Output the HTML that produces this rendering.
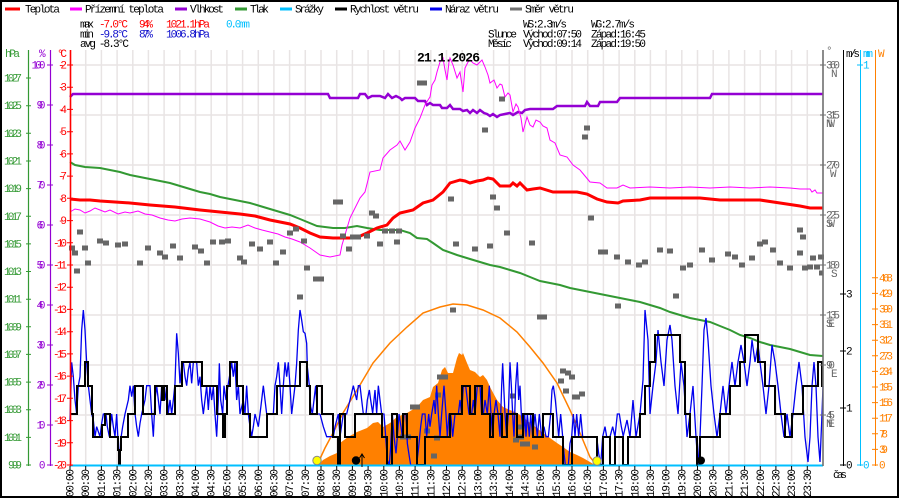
<!DOCTYPE html>
<html><head><meta charset="utf-8"><style>
html,body{margin:0;padding:0;background:#fff;}
svg{display:block;}
text{font-family:"Liberation Mono","DejaVu Sans Mono",monospace;font-size:11px;}
</style></head><body>
<svg width="900" height="500" viewBox="0 0 900 500" xmlns="http://www.w3.org/2000/svg">
<rect x="0" y="0" width="900" height="500" fill="#fff"/>
<rect x="1" y="1" width="897" height="496" fill="none" stroke="#000" stroke-width="2"/>

<!-- grid -->
<path stroke="#e8e4e4" stroke-width="1.5" fill="none" d="M85.7,50V465M101.4,50V465M117.1,50V465M132.8,50V465M148.4,50V465M164.1,50V465M179.8,50V465M195.5,50V465M211.2,50V465M226.9,50V465M242.6,50V465M258.3,50V465M273.9,50V465M289.6,50V465M305.3,50V465M321,50V465M336.7,50V465M352.4,50V465M368.1,50V465M383.8,50V465M399.4,50V465M415.1,50V465M430.8,50V465M446.5,50V465M462.2,50V465M477.9,50V465M493.6,50V465M509.3,50V465M524.9,50V465M540.6,50V465M556.3,50V465M572,50V465M587.7,50V465M603.4,50V465M619.1,50V465M634.8,50V465M650.4,50V465M666.1,50V465M681.8,50V465M697.5,50V465M713.2,50V465M728.9,50V465M744.6,50V465M760.3,50V465M775.9,50V465M791.6,50V465M807.3,50V465"/>
<path stroke="#e8e4e4" stroke-width="1.5" fill="none" d="M70,65H823M70,115H823M70,165H823M70,215H823M70,265H823M70,315H823M70,365H823M70,415H823"/>

<!-- solar radiation fill -->
<path fill="#ff8000" stroke="none" d="M318,465 L323,460 330,456 337,453 340,443 348,437 357,432 367,428 373,423 378,422 383,427 390,423 397,417 407,413 417,407 423,400 430,397 433,387 438,383 442,370 445,367 448,373 453,373 457,358 459,353 462,355 463,353 467,363 470,370 475,372 480,377 483,375 487,380 490,387 497,400 503,407 510,410 517,413 523,417 530,423 537,428 543,433 550,438 557,443 563,447 570,452 577,455 583,458 590,462 595,465 Z"/>
<!-- theoretical radiation -->
<polyline fill="none" stroke="#ff8000" stroke-width="1.5" points="318,463 325,448 333,433 343,413 357,390 373,363 390,343 407,327 423,313 440,307 453,304 467,305 483,310 500,318 517,332 530,347 543,363 557,383 570,410 580,433 590,457 595,463"/>

<!-- pressure -->
<polyline fill="none" stroke="#339933" stroke-width="2" points="70,162 75,165 85,167 100,168 110,170 120,172 130,175 140,177 150,179 160,181 170,183 180,186 190,189 200,192 210,194 220,197 230,199 240,201 250,203 260,206 270,209 280,212 290,215 300,219 317,226 333,228 345,228 357,226 367,228 380,230 400,230 410,233 417,238 427,239 433,243 443,250 457,255 470,259 480,262 490,265 500,267 510,270 520,273 530,277 540,281 550,283 560,285 570,288 580,290 590,292 600,294 610,296 620,298 630,300 640,302 650,305 660,308 670,312 680,315 690,318 700,320 710,322 720,326 730,330 740,335 750,338 760,342 770,345 780,347 790,349 800,352 810,355 823,356"/>

<!-- humidity -->
<polyline fill="none" stroke="#9400d3" stroke-width="2.5" points="70,97 73,94 328,94 330,98 358,98 360,94 365,94 368,98 372,96 380,96 385,98 388,94 392,98 396,96 400,98 402,100 405,98 415,98 418,101 425,101 427,105 430,103 433,105 440,105 442,108 447,108 450,105 453,109 460,109 463,111 467,110 470,113 473,110 477,113 480,110 484,113 487,114 490,116 493,114 497,117 500,115 505,114 510,113 513,115 518,112 522,113 525,110 530,109 553,109 557,106 585,106 587,102 590,106 598,106 600,102 617,102 620,98 710,98 712,94 823,94"/>

<!-- apparent temperature -->
<polyline fill="none" stroke="#ff00ff" stroke-width="1" points="70,212 75,209 80,210 85,213 90,211 95,208 100,210 105,212 110,210 118,214 125,212 130,213 138,211 145,214 152,215 160,218 168,220 175,221 182,219 190,218 200,219 210,222 218,226 225,228 232,227 240,228 248,225 255,228 262,230 270,232 278,234 285,237 292,239 300,242 310,248 320,255 330,257 340,255 342,245 350,218 360,198 365,192 370,172 380,170 383,158 390,150 397,145 400,141 405,150 410,142 415,128 420,118 425,105 428,100 430,97 432,85 435,80 437,72 440,62 443,58 445,70 447,80 449,62 450,58 453,65 457,78 460,72 463,92 465,68 468,62 470,60 473,63 477,65 480,62 482,60 485,67 488,75 490,83 494,80 497,88 500,84 502,85 505,97 508,93 510,95 513,112 516,104 518,107 521,118 523,132 527,117 530,125 533,127 536,120 540,122 543,126 547,128 550,140 555,143 560,155 567,157 573,165 580,170 585,176 590,182 600,183 607,188 617,188 623,185 630,188 650,187 670,188 690,187 710,188 730,187 750,188 770,187 790,188 800,189 810,189 812,192 815,190 817,193 823,193"/>

<!-- temperature -->
<polyline fill="none" stroke="#ff0000" stroke-width="3" points="70,199 80,200 90,200 100,201 115,202 130,203 150,205 175,207 200,210 220,212 240,214 255,216 270,220 290,224 300,228 310,233 320,237 333,238 350,238 358,237 367,233 377,228 387,225 393,218 400,213 413,210 423,203 433,200 443,192 450,183 460,180 465,181 470,183 477,181 483,180 488,178 493,179 500,186 510,186 513,183 517,186 520,183 527,190 533,189 540,188 553,192 577,192 587,194 597,199 607,202 618,203 623,201 640,200 650,198 700,198 720,200 760,200 780,203 800,206 810,208 823,208"/>

<!-- wind direction -->
<g fill="#666">
<rect x="77" y="229.5" width="6" height="5"/><rect x="69" y="245.5" width="6" height="5"/><rect x="72" y="250.5" width="6" height="5"/><rect x="82" y="245.5" width="6" height="5"/><rect x="74" y="268.5" width="6" height="5"/><rect x="85" y="260.5" width="6" height="5"/><rect x="97" y="238.5" width="6" height="5"/><rect x="103" y="240.5" width="6" height="5"/><rect x="115" y="242.5" width="6" height="5"/><rect x="122" y="241.5" width="6" height="5"/><rect x="137" y="260.5" width="6" height="5"/><rect x="145" y="245.5" width="6" height="5"/><rect x="157" y="250.5" width="6" height="5"/><rect x="162" y="254.5" width="6" height="5"/><rect x="170" y="243.5" width="6" height="5"/><rect x="177" y="255.5" width="6" height="5"/><rect x="192" y="244.5" width="6" height="5"/><rect x="198" y="248.5" width="6" height="5"/><rect x="204" y="260.5" width="6" height="5"/><rect x="210" y="239.5" width="6" height="5"/><rect x="219" y="239.5" width="6" height="5"/><rect x="225" y="238.5" width="6" height="5"/><rect x="237" y="255.5" width="6" height="5"/><rect x="241" y="259.5" width="6" height="5"/><rect x="249" y="241.5" width="6" height="5"/><rect x="257" y="246.5" width="6" height="5"/><rect x="267" y="239.5" width="6" height="5"/><rect x="273" y="260.5" width="6" height="5"/><rect x="280" y="249.5" width="6" height="5"/><rect x="287" y="230.5" width="6" height="5"/><rect x="293" y="226.5" width="6" height="5"/><rect x="297" y="294.5" width="6" height="5"/><rect x="304" y="265.5" width="6" height="5"/><rect x="313" y="276.5" width="6" height="5"/><rect x="318" y="276.5" width="6" height="5"/>
<rect x="301" y="238.5" width="6" height="5"/><rect x="333" y="199.5" width="10" height="5"/><rect x="340" y="233.5" width="6" height="5"/><rect x="350" y="234.5" width="6" height="5"/><rect x="355" y="234.5" width="6" height="5"/><rect x="364" y="233.5" width="6" height="5"/><rect x="346" y="246.5" width="6" height="5"/><rect x="369" y="210.5" width="6" height="5"/><rect x="373" y="213.5" width="6" height="5"/><rect x="377" y="241.5" width="6" height="5"/><rect x="382" y="228.5" width="6" height="5"/><rect x="389" y="228.5" width="6" height="5"/><rect x="396" y="228.5" width="6" height="5"/><rect x="394" y="239.5" width="6" height="5"/><rect x="417" y="80.5" width="10" height="5"/><rect x="448" y="196.5" width="6" height="5"/><rect x="453" y="241.5" width="6" height="5"/><rect x="472" y="246.5" width="6" height="5"/><rect x="482" y="127.5" width="6" height="5"/><rect x="487" y="243.5" width="6" height="5"/><rect x="490" y="194.5" width="6" height="5"/><rect x="494" y="205.5" width="6" height="5"/><rect x="499" y="96.5" width="6" height="5"/><rect x="504" y="230.5" width="6" height="5"/><rect x="529" y="240.5" width="6" height="5"/><rect x="582" y="134.5" width="6" height="5"/><rect x="584" y="125.5" width="6" height="5"/><rect x="588" y="215.5" width="6" height="5"/><rect x="598" y="249.5" width="10" height="5"/>
<rect x="450" y="307.5" width="6" height="5"/><rect x="537" y="314.5" width="10" height="5"/><rect x="615" y="303.5" width="6" height="5"/><rect x="560" y="368.5" width="6" height="5"/><rect x="565" y="370.5" width="6" height="5"/><rect x="569" y="374.5" width="6" height="5"/><rect x="558" y="378.5" width="6" height="5"/><rect x="563" y="388.5" width="6" height="5"/><rect x="572" y="394.5" width="8" height="5"/><rect x="579" y="391.5" width="6" height="5"/><rect x="442" y="374.5" width="6" height="5"/><rect x="437" y="374.5" width="6" height="5"/><rect x="435" y="392.5" width="6" height="5"/><rect x="410" y="404.5" width="10" height="5"/><rect x="510" y="393.5" width="6" height="5"/><rect x="516" y="424.5" width="6" height="5"/><rect x="518" y="434.5" width="6" height="5"/><rect x="520" y="441.5" width="6" height="5"/><rect x="524" y="441.5" width="6" height="5"/><rect x="532" y="444.5" width="6" height="5"/><rect x="400" y="434.5" width="6" height="5"/><rect x="405" y="434.5" width="6" height="5"/><rect x="434" y="435.5" width="6" height="5"/><rect x="424" y="428.5" width="6" height="5"/><rect x="431" y="453.5" width="6" height="5"/><rect x="513" y="437.5" width="6" height="5"/>
<rect x="614" y="254.5" width="6" height="5"/><rect x="625" y="259.5" width="6" height="5"/><rect x="636" y="262.5" width="6" height="5"/><rect x="642" y="259.5" width="6" height="5"/><rect x="657" y="247.5" width="6" height="5"/><rect x="667" y="248.5" width="6" height="5"/><rect x="673" y="293.5" width="6" height="5"/><rect x="680" y="265.5" width="6" height="5"/><rect x="687" y="262.5" width="6" height="5"/><rect x="699" y="247.5" width="6" height="5"/><rect x="709" y="257.5" width="6" height="5"/><rect x="725" y="251.5" width="6" height="5"/><rect x="732" y="254.5" width="6" height="5"/><rect x="739" y="262.5" width="6" height="5"/><rect x="749" y="255.5" width="6" height="5"/><rect x="757" y="241.5" width="6" height="5"/><rect x="762" y="239.5" width="6" height="5"/><rect x="770" y="247.5" width="6" height="5"/><rect x="777" y="260.5" width="6" height="5"/><rect x="787" y="265.5" width="6" height="5"/><rect x="797" y="227.5" width="6" height="5"/><rect x="800" y="234.5" width="6" height="5"/><rect x="802" y="265.5" width="6" height="5"/><rect x="807" y="264.5" width="6" height="5"/><rect x="810" y="255.5" width="6" height="5"/><rect x="814" y="264.5" width="6" height="5"/><rect x="818" y="254.5" width="6" height="5"/><rect x="819" y="270.5" width="4" height="5"/><rect x="797" y="250.5" width="6" height="5"/>
</g>

<!-- wind gusts -->
<g transform="translate(70,300) scale(0.333333)">
<polyline fill="none" stroke="#0000ee" stroke-width="1.3" vector-effect="non-scaling-stroke" points="0,360 5,187 10,230 15,300 20,342 25,257 30,230 35,90 40,30 45,90 50,190 55,257 60,300 65,342 70,360 75,410 80,380 90,410 95,370 100,342 108,342 112,380 118,410 125,342 130,380 135,410 140,342 145,440 148,490 152,420 158,380 165,342 175,300 180,257 185,290 190,257 195,340 200,380 205,410 210,370 215,342 225,300 230,257 240,257 245,342 250,410 255,300 260,257 265,300 270,342 275,257 285,300 290,257 295,340 300,300 305,342 310,300 315,250 320,100 325,160 330,250 335,200 340,187 345,230 350,257 355,210 360,187 365,250 370,187 380,187 385,257 390,230 395,300 400,342 405,300 410,257 415,330 420,257 425,300 430,260 435,342 440,410 445,300 448,190 452,300 458,342 462,257 468,300 474,257 480,220 485,187 490,230 495,187 500,300 505,257 510,342 520,300 525,342 530,257 535,342 540,380 545,410 550,380 555,342 565,380 570,342 575,300 580,257 585,300 590,342 600,342 610,342 615,257 620,230 625,187 630,257 635,342 640,257 645,187 650,230 655,187 660,257 665,342 670,300 675,257 680,190 685,90 690,30 695,60 700,95 705,100 710,130 712,200 718,257 722,320 727,342 732,300 737,257 742,342 750,342"/>
</g>
<g transform="translate(290,300) scale(0.333333)">
<polyline fill="none" stroke="#0000ee" stroke-width="1.3" vector-effect="non-scaling-stroke" points="90,342 100,380 110,410 130,410 135,380 145,342 150,410 160,342 170,342 180,300 190,257 200,300 205,257 210,257 215,300 220,342 228,342 232,300 238,270 242,300 248,340 255,270 260,340 265,257 270,300 275,342 282,342 287,410 292,480 298,495 302,440 307,342 312,410 318,460 322,410 327,342 333,380 337,410 342,342 348,342 352,430 358,470 362,495 380,495 386,440 392,380 397,342 405,342 410,410 416,342 420,380 425,342 432,300 436,342 440,257 445,342 450,410 455,342 462,257 468,342 472,410 477,342 482,342 488,410 495,342 505,342 510,300 515,342 520,257 527,257 532,300 537,342 545,342 550,300 555,342 562,257 570,257 575,342 580,342 585,300 592,342 598,257 603,342 608,410 612,342 618,300 624,342 630,410 635,257 638,190 641,257 645,342 650,410 655,342 660,187 664,257 668,342 672,410 677,257 682,187 686,300 690,257 694,342 700,410 704,342 708,410 712,342 718,410 722,342 728,410 735,342 742,410 748,342 755,410 762,380 768,410 775,410 782,342 786,270 790,257 796,300 800,342 806,410 812,342 818,410 822,460 826,495 835,495 840,430 845,410 850,342 855,410 860,342 866,410 872,342 878,410 920,410 926,460 932,495 938,410 945,380 950,410 960,410 968,380 975,410 982,342 988,342 994,380 1000,410"/>
</g>
<polyline fill="none" stroke="#0000ee" stroke-width="1.3" points="623,437 627,420 630,437 633,400 636,437 640,414 643,380 645,310 648,340 650,414 653,386 656,362 658,330 661,362 664,386 667,340 670,325 672,340 675,386 678,414 681,362 684,386 687,437 690,414 693,386 696,437 698,465 700,437 702,386 704,330 706,318 708,340 711,386 714,414 717,437 720,414 723,386 726,414 729,386 732,362 735,386 738,362 741,345 744,362 747,386 750,362 752,340 755,362 758,345 760,362 763,386 766,414 769,386 772,345 775,362 778,386 781,414 784,437 787,414 790,437 793,414 796,386 799,362 802,386 805,437 808,462 810,437 812,386 814,362 816,386 818,437 820,462 822,414 823,386"/>

<!-- wind speed -->
<path fill="none" stroke="#000" stroke-width="2" d="M70,414 H77 V386 H85 V362 H88 V386 H92 V414 H93 V437 H102 V425 H105 V414 H110 V437 H118 V450 H119 V465 H120 V450 H121 V437 H128 V414 H135 V386 H143 V414 H155 V386 H162 V400 H164 V386 H167 V414 H175 V386 H182 V362 H202 V386 H217 V414 H223 V437 H225 V414 H227 V386 H230 V362 H237 V386 H243 V414 H250 V437 H267 V414 H277 V386 H300 V362 H307 V386 H310 V414 H317 V386 H322 V414 H333 V437 H338 V465 H340 V414 H345 V437 H355 V414 H382 V437 H387 V465 H392 V414 H397 V437 H403 V414 H407 V437 H417 V465 H425 V437 H450 V414 H462 V386 H470 V414 H475 V386 H482 V414 H490 V437 H493 V414 H502 V437 H507 V414 H517 V437 H523 V414 H533 V437 H543 V414 H553 V437 H563 V465 H572 V437 H597 V465 H603 V437 H610 V465 H615 V437 H623 V465 H628 V437 H640 V414 H645 V386 H650 V362 H655 V335 H680 V362 H685 V414 H690 V437 H697 V465 H700 V437 H720 V414 H730 V386 H740 V362 H745 V335 H758 V362 H765 V386 H775 V414 H785 V437 H792 V414 H803 V386 H818 V362 H822 V386 H823"/>

<!-- precipitation baseline -->
<line x1="70" y1="465.5" x2="823" y2="465.5" stroke="#00bfff" stroke-width="2"/>
<path stroke="#000" stroke-width="1" fill="none" d="M70,466V470M85.7,466V470M101.4,466V470M117.1,466V470M132.8,466V470M148.4,466V470M164.1,466V470M179.8,466V470M195.5,466V470M211.2,466V470M226.9,466V470M242.6,466V470M258.3,466V470M273.9,466V470M289.6,466V470M305.3,466V470M321,466V470M336.7,466V470M352.4,466V470M368.1,466V470M383.8,466V470M399.4,466V470M415.1,466V470M430.8,466V470M446.5,466V470M462.2,466V470M477.9,466V470M493.6,466V470M509.3,466V470M524.9,466V470M540.6,466V470M556.3,466V470M572,466V470M587.7,466V470M603.4,466V470M619.1,466V470M634.8,466V470M650.4,466V470M666.1,466V470M681.8,466V470M697.5,466V470M713.2,466V470M728.9,466V470M744.6,466V470M760.3,466V470M775.9,466V470M791.6,466V470M807.3,466V470"/>

<!-- sun / moon markers -->
<circle cx="317" cy="460.5" r="4.2" fill="#ffff00" stroke="#888" stroke-width="1"/>
<circle cx="597" cy="461" r="4.2" fill="#ffff00" stroke="#888" stroke-width="1"/>
<circle cx="356" cy="460.5" r="4.2" fill="#000"/>
<path d="M362,467V455M359.5,458L362,454L364.5,458" stroke="#000" stroke-width="1" fill="none"/>
<circle cx="701" cy="460.5" r="4" fill="#000"/>
<path d="M697,454V466" stroke="#000" stroke-width="1"/>

<!-- left axes -->
<line x1="28.5" y1="50" x2="28.5" y2="466" stroke="#339933" stroke-width="1.2"/>
<line x1="50.5" y1="50" x2="50.5" y2="466" stroke="#9400d3" stroke-width="1.2"/>
<line x1="70.5" y1="50" x2="70.5" y2="466" stroke="#ff0000" stroke-width="1.6"/>
<path stroke="#339933" stroke-width="1" d="M26,78H31M26,105.7H31M26,133.3H31M26,161H31M26,188.6H31M26,216.3H31M26,243.9H31M26,271.5H31M26,299.2H31M26,326.8H31M26,354.4H31M26,382.1H31M26,409.7H31M26,437.4H31M26,465H31"/>
<path stroke="#9400d3" stroke-width="1" d="M47,65H53M47,105H53M47,145H53M47,185H53M47,225H53M47,265H53M47,305H53M47,345H53M47,385H53M47,425H53M47,465H53"/>
<path stroke="#ff0000" stroke-width="1" d="M67,65H73M67,87.2H73M67,109.4H73M67,131.7H73M67,153.9H73M67,176.1H73M67,198.3H73M67,220.6H73M67,242.8H73M67,265H73M67,287.2H73M67,309.4H73M67,331.7H73M67,353.9H73M67,376.1H73M67,398.3H73M67,420.6H73M67,442.8H73M67,465H73"/>

<g fill="#339933" text-anchor="end">
<text x="22" y="81.5" textLength="18">1027</text><text x="22" y="109.2" textLength="18">1025</text><text x="22" y="136.8" textLength="18">1023</text><text x="22" y="164.5" textLength="18">1021</text><text x="22" y="192.1" textLength="18">1019</text><text x="22" y="219.8" textLength="18">1017</text><text x="22" y="247.4" textLength="18">1015</text><text x="22" y="275" textLength="18">1013</text><text x="22" y="302.7" textLength="18">1011</text><text x="22" y="330.3" textLength="18">1009</text><text x="22" y="357.9" textLength="18">1007</text><text x="22" y="385.6" textLength="18">1005</text><text x="22" y="413.2" textLength="18">1003</text><text x="22" y="440.9" textLength="18">1001</text><text x="22" y="468.5" textLength="14">999</text>
</g>
<g fill="#9400d3" text-anchor="end">
<text x="45.5" y="68.5" textLength="14">100</text><text x="45.5" y="108.5" textLength="9">90</text><text x="45.5" y="148.5" textLength="9">80</text><text x="45.5" y="188.5" textLength="9">70</text><text x="45.5" y="228.5" textLength="9">60</text><text x="45.5" y="268.5" textLength="9">50</text><text x="45.5" y="308.5" textLength="9">40</text><text x="45.5" y="348.5" textLength="9">30</text><text x="45.5" y="388.5" textLength="9">20</text><text x="45.5" y="428.5" textLength="9">10</text><text x="45.5" y="468.5" textLength="4">0</text>
</g>
<g fill="#ff0000" text-anchor="end">
<text x="67" y="68.5" textLength="9">-2</text><text x="67" y="90.7" textLength="9">-3</text><text x="67" y="112.9" textLength="9">-4</text><text x="67" y="135.2" textLength="9">-5</text><text x="67" y="157.4" textLength="9">-6</text><text x="67" y="179.6" textLength="9">-7</text><text x="67" y="201.8" textLength="9">-8</text><text x="67" y="224.1" textLength="9">-9</text><text x="67" y="246.3" textLength="14">-10</text><text x="67" y="268.5" textLength="14">-11</text><text x="67" y="290.7" textLength="14">-12</text><text x="67" y="312.9" textLength="14">-13</text><text x="67" y="335.2" textLength="14">-14</text><text x="67" y="357.4" textLength="14">-15</text><text x="67" y="379.6" textLength="14">-16</text><text x="67" y="401.8" textLength="14">-17</text><text x="67" y="424.1" textLength="14">-18</text><text x="67" y="446.3" textLength="14">-19</text><text x="67" y="468.5" textLength="14">-20</text>
</g>
<text x="5" y="57" fill="#339933" textLength="15">hPa</text>
<text x="39" y="57" fill="#9400d3" textLength="5">%</text>
<text x="57" y="57" fill="#ff0000" textLength="10">°C</text>

<!-- right axes -->
<line x1="823" y1="50" x2="823" y2="466" stroke="#707070" stroke-width="1.6"/>
<line x1="843.5" y1="50" x2="843.5" y2="466" stroke="#000" stroke-width="1"/>
<line x1="860.5" y1="50" x2="860.5" y2="466" stroke="#00bfff" stroke-width="1"/>
<line x1="875.5" y1="50" x2="875.5" y2="466" stroke="#ff8000" stroke-width="1"/>
<path stroke="#707070" stroke-width="1" d="M820,65H826M820,115H826M820,165H826M820,215H826M820,265H826M820,315H826M820,365H826M820,415H826"/>
<g fill="#666">
<text x="826" y="68.5" textLength="14">360</text><text x="831" y="77" textLength="5">N</text>
<text x="826" y="118.5" textLength="14">315</text><text x="826" y="127" textLength="9">NW</text>
<text x="826" y="168.5" textLength="14">270</text><text x="830" y="177" textLength="5">W</text>
<text x="826" y="218.5" textLength="14">225</text><text x="826" y="227" textLength="9">SW</text>
<text x="826" y="268.5" textLength="14">180</text><text x="831" y="277" textLength="5">S</text>
<text x="826" y="318.5" textLength="14">135</text><text x="826" y="327" textLength="9">SE</text>
<text x="826" y="368.5" textLength="9">90</text><text x="831" y="377" textLength="5">E</text>
<text x="826" y="418.5" textLength="9">45</text><text x="826" y="427" textLength="9">NE</text>
<text x="826" y="54" textLength="4">°</text>
</g>
<path stroke="#000" stroke-width="1" d="M840,465H846M840,408H846M840,351H846M840,294H846"/>
<g fill="#000">
<text x="846" y="468.5" textLength="4">0</text><text x="846" y="411.5" textLength="4">1</text><text x="846" y="354.5" textLength="4">2</text><text x="846" y="297.5" textLength="4">3</text>
<text x="846" y="57" textLength="14">m/s</text>
<text x="833" y="478" textLength="14">čas</text>
</g>
<path stroke="#00bfff" stroke-width="1" d="M857,65H863M857,465H863"/>
<g fill="#00bfff">
<text x="863" y="68.5" textLength="4">1</text><text x="863" y="468.5" textLength="4">0</text>
<text x="863" y="57" textLength="10">mm</text>
</g>
<path stroke="#ff8000" stroke-width="1" d="M872,465H878M872,449.4H878M872,433.8H878M872,418.2H878M872,402.6H878M872,387H878M872,371.4H878M872,355.8H878M872,340.2H878M872,324.6H878M872,309H878M872,293.4H878M872,277.8H878"/>
<g fill="#ff8000">
<text x="879" y="468.5" textLength="4">0</text><text x="879" y="452.9" textLength="9">39</text><text x="879" y="437.3" textLength="9">78</text><text x="879" y="421.7" textLength="14">117</text><text x="879" y="406.1" textLength="14">156</text><text x="879" y="390.5" textLength="14">195</text><text x="879" y="374.9" textLength="14">234</text><text x="879" y="359.3" textLength="14">273</text><text x="879" y="343.7" textLength="14">312</text><text x="879" y="328.1" textLength="14">351</text><text x="879" y="312.5" textLength="14">390</text><text x="879" y="296.9" textLength="14">429</text><text x="879" y="281.3" textLength="14">468</text>
<text x="878" y="57" textLength="5">W</text>
</g>

<!-- time labels -->
<g fill="#000">
<text transform="translate(73.5,497) rotate(-90)" textLength="28">00:00</text>
<text transform="translate(89.2,497) rotate(-90)" textLength="28">00:30</text>
<text transform="translate(104.9,497) rotate(-90)" textLength="28">01:00</text>
<text transform="translate(120.6,497) rotate(-90)" textLength="28">01:30</text>
<text transform="translate(136.3,497) rotate(-90)" textLength="28">02:00</text>
<text transform="translate(151.9,497) rotate(-90)" textLength="28">02:30</text>
<text transform="translate(167.6,497) rotate(-90)" textLength="28">03:00</text>
<text transform="translate(183.3,497) rotate(-90)" textLength="28">03:30</text>
<text transform="translate(199,497) rotate(-90)" textLength="28">04:00</text>
<text transform="translate(214.7,497) rotate(-90)" textLength="28">04:30</text>
<text transform="translate(230.4,497) rotate(-90)" textLength="28">05:00</text>
<text transform="translate(246.1,497) rotate(-90)" textLength="28">05:30</text>
<text transform="translate(261.8,497) rotate(-90)" textLength="28">06:00</text>
<text transform="translate(277.4,497) rotate(-90)" textLength="28">06:30</text>
<text transform="translate(293.1,497) rotate(-90)" textLength="28">07:00</text>
<text transform="translate(308.8,497) rotate(-90)" textLength="28">07:30</text>
<text transform="translate(324.5,497) rotate(-90)" textLength="28">08:00</text>
<text transform="translate(340.2,497) rotate(-90)" textLength="28">08:30</text>
<text transform="translate(355.9,497) rotate(-90)" textLength="28">09:00</text>
<text transform="translate(371.6,497) rotate(-90)" textLength="28">09:30</text>
<text transform="translate(387.3,497) rotate(-90)" textLength="28">10:00</text>
<text transform="translate(402.9,497) rotate(-90)" textLength="28">10:30</text>
<text transform="translate(418.6,497) rotate(-90)" textLength="28">11:00</text>
<text transform="translate(434.3,497) rotate(-90)" textLength="28">11:30</text>
<text transform="translate(450,497) rotate(-90)" textLength="28">12:00</text>
<text transform="translate(465.7,497) rotate(-90)" textLength="28">12:30</text>
<text transform="translate(481.4,497) rotate(-90)" textLength="28">13:00</text>
<text transform="translate(497.1,497) rotate(-90)" textLength="28">13:30</text>
<text transform="translate(512.8,497) rotate(-90)" textLength="28">14:00</text>
<text transform="translate(528.4,497) rotate(-90)" textLength="28">14:30</text>
<text transform="translate(544.1,497) rotate(-90)" textLength="28">15:00</text>
<text transform="translate(559.8,497) rotate(-90)" textLength="28">15:30</text>
<text transform="translate(575.5,497) rotate(-90)" textLength="28">16:00</text>
<text transform="translate(591.2,497) rotate(-90)" textLength="28">16:30</text>
<text transform="translate(606.9,497) rotate(-90)" textLength="28">17:00</text>
<text transform="translate(622.6,497) rotate(-90)" textLength="28">17:30</text>
<text transform="translate(638.3,497) rotate(-90)" textLength="28">18:00</text>
<text transform="translate(653.9,497) rotate(-90)" textLength="28">18:30</text>
<text transform="translate(669.6,497) rotate(-90)" textLength="28">19:00</text>
<text transform="translate(685.3,497) rotate(-90)" textLength="28">19:30</text>
<text transform="translate(701,497) rotate(-90)" textLength="28">20:00</text>
<text transform="translate(716.7,497) rotate(-90)" textLength="28">20:30</text>
<text transform="translate(732.4,497) rotate(-90)" textLength="28">21:00</text>
<text transform="translate(748.1,497) rotate(-90)" textLength="28">21:30</text>
<text transform="translate(763.8,497) rotate(-90)" textLength="28">22:00</text>
<text transform="translate(779.4,497) rotate(-90)" textLength="28">22:30</text>
<text transform="translate(795.1,497) rotate(-90)" textLength="28">23:00</text>
<text transform="translate(810.8,497) rotate(-90)" textLength="28">23:30</text>
</g>

<!-- legend -->
<path stroke-width="3" d="M5,9H20" stroke="#ff0000"/>
<text x="25" y="12.5" textLength="35">Teplota</text>
<path stroke-width="3" d="M70,9H82" stroke="#ff00ff"/>
<text x="85" y="12.5" textLength="79">Přízemní teplota</text>
<path stroke-width="3" d="M175,9H187" stroke="#9400d3"/>
<text x="190" y="12.5" textLength="34">Vlhkost</text>
<path stroke-width="3" d="M235,9H247" stroke="#339933"/>
<text x="250" y="12.5" textLength="19">Tlak</text>
<path stroke-width="3" d="M280,9H292" stroke="#00bfff"/>
<text x="295" y="12.5" textLength="29">Srážky</text>
<path stroke-width="3" d="M335,9H347" stroke="#000"/>
<text x="350" y="12.5" textLength="69">Rychlost větru</text>
<path stroke-width="3" d="M430,9H442" stroke="#0000ee"/>
<text x="445" y="12.5" textLength="54">Náraz větru</text>
<path stroke-width="3" d="M510,9H522" stroke="#707070"/>
<text x="525" y="12.5" textLength="49">Směr větru</text>

<!-- stats -->
<text x="80" y="27.5" textLength="14">max</text>
<text x="99" y="27.5" fill="#ff0000" textLength="29">-7.0°C</text>
<text x="139" y="27.5" fill="#ff0000" textLength="14">94%</text>
<text x="166" y="27.5" fill="#ff0000" textLength="44">1021.1hPa</text>
<text x="226" y="27.5" fill="#00bfff" textLength="24">0.0mm</text>
<text x="80" y="37.5" textLength="14">min</text>
<text x="99" y="37.5" fill="#1010cc" textLength="29">-9.8°C</text>
<text x="139" y="37.5" fill="#1010cc" textLength="14">87%</text>
<text x="166" y="37.5" fill="#1010cc" textLength="44">1006.8hPa</text>
<text x="80" y="47" textLength="49">avg -8.3°C</text>

<text x="523" y="27.5" textLength="44">WS:2.3m/s</text>
<text x="591" y="27.5" textLength="44">WG:2.7m/s</text>
<text x="488" y="37.5" textLength="29">Slunce</text>
<text x="523" y="37.5" textLength="59">Východ:07:50</text>
<text x="591" y="37.5" textLength="55">Západ:16:45</text>
<text x="488" y="47" textLength="24">Měsíc</text>
<text x="523" y="47" textLength="59">Východ:09:14</text>
<text x="591" y="47" textLength="55">Západ:19:50</text>

<text x="417" y="61.5" font-weight="bold" style="font-size:13px" textLength="63">21.1.2026</text>
</svg>
</body></html>
